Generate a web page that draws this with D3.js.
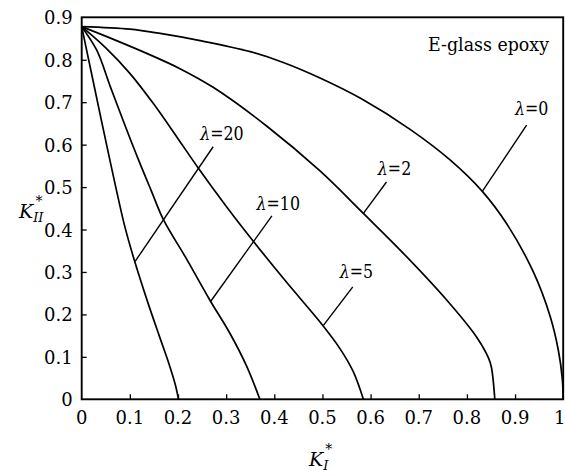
<!DOCTYPE html>
<html>
<head>
<meta charset="utf-8">
<script src="https://cdn.jsdelivr.net/npm/d3@7"></script>
<style>
  html, body { margin: 0; padding: 0; background: #fff; }
  svg { display: block; }
</style>
</head>
<body>
<svg id="chart" width="565" height="475"></svg>
<script>
// ---- data ----
const xTicks = [0, 0.1, 0.2, 0.3, 0.4, 0.5, 0.6, 0.7, 0.8, 0.9, 1];
const yTicks = [0, 0.1, 0.2, 0.3, 0.4, 0.5, 0.6, 0.7, 0.8, 0.9];
const xTickLabels = ["0", "0.1", "0.2", "0.3", "0.4", "0.5", "0.6", "0.7", "0.8", "0.9", "1"];
const yTickLabels = ["0", "0.1", "0.2", "0.3", "0.4", "0.5", "0.6", "0.7", "0.8", "0.9"];

const lambdaNames = ["0", "2", "5", "10", "20"];

// [K_I*, K_II*] points for each lambda
const curveL0 = [[0, 0.878], [0.1, 0.872], [0.163, 0.862], [0.246, 0.845], [0.35, 0.819], [0.42, 0.793],
  [0.495, 0.757], [0.581, 0.708], [0.682, 0.636], [0.765, 0.564], [0.832, 0.490], [0.883, 0.413],
  [0.938, 0.300], [0.973, 0.195], [0.990, 0.115], [0.998, 0.05], [1.0, 0]];
const curveL2 = [[0, 0.878], [0.066, 0.848], [0.135, 0.815], [0.204, 0.779], [0.273, 0.735], [0.384, 0.644],
  [0.495, 0.538], [0.585, 0.438], [0.668, 0.344], [0.758, 0.234], [0.82, 0.147], [0.845, 0.097],
  [0.851, 0.075], [0.858, 0]];
const curveL5 = [[0, 0.878], [0.05, 0.828], [0.1, 0.768], [0.15, 0.695], [0.2, 0.614], [0.242, 0.545],
  [0.3, 0.455], [0.356, 0.373], [0.426, 0.275], [0.495, 0.182], [0.536, 0.12], [0.564, 0.065], [0.585, 0]];
const curveL10 = [[0, 0.878], [0.031, 0.823], [0.06, 0.735], [0.09, 0.645], [0.118, 0.564], [0.145, 0.49],
  [0.170, 0.4225], [0.215, 0.336], [0.266, 0.234], [0.308, 0.155], [0.343, 0.077], [0.370, 0]];
const curveL20 = [[0, 0.878], [0.02, 0.77], [0.04, 0.662], [0.06, 0.556], [0.075, 0.478], [0.09, 0.405],
  [0.110, 0.325], [0.135, 0.236], [0.16, 0.153], [0.18, 0.088], [0.195, 0.032], [0.201, 0]];

// ---- layout ----
const SERIF = "'DejaVu Serif', serif";
const svg = d3.select("#chart").style("font-family", SERIF);
const mLeft = 81.7, mRight = 563.2, mTop = 17.3, mBottom = 399.3;
const x = d3.scaleLinear().domain([0, 1]).range([mLeft, mRight]);
const y = d3.scaleLinear().domain([0, 0.9]).range([mBottom, mTop]);

// squeeze DejaVu Serif horizontally toward the narrower Times-like look
function squeeze(sel, f) {
  sel.each(function () {
    const w = this.getComputedTextLength();
    d3.select(this).attr("textLength", w * f).attr("lengthAdjust", "spacingAndGlyphs");
  });
}

// label annotations: label anchor (data units), leader start and end (data units)
const annotations = [
  { name: lambdaNames[0], lx: 0.900, ly: 0.670, x1: 0.924, y1: 0.646, x2: 0.832, y2: 0.490 },
  { name: lambdaNames[1], lx: 0.615, ly: 0.528, x1: 0.633, y1: 0.512, x2: 0.585, y2: 0.438 },
  { name: lambdaNames[2], lx: 0.536, ly: 0.286, x1: 0.563, y1: 0.265, x2: 0.502, y2: 0.174 },
  { name: lambdaNames[3], lx: 0.363, ly: 0.446, x1: 0.395, y1: 0.432, x2: 0.268, y2: 0.231 },
  { name: lambdaNames[4], lx: 0.246, ly: 0.611, x1: 0.273, y1: 0.595, x2: 0.111, y2: 0.325 }
];

const line = d3.line().x(d => x(d[0])).y(d => y(d[1])).curve(d3.curveCatmullRom.alpha(0.5));

// curves
[curveL0, curveL2, curveL5, curveL10, curveL20].forEach(c => {
  svg.append("path").datum(c).attr("d", line)
    .attr("fill", "none").attr("stroke", "#000").attr("stroke-width", 1.7)
    .attr("stroke-linejoin", "round");
});

// leader lines and labels
annotations.forEach(a => {
  svg.append("line")
    .attr("x1", x(a.x1)).attr("y1", y(a.y1)).attr("x2", x(a.x2)).attr("y2", y(a.y2))
    .attr("stroke", "#000").attr("stroke-width", 1.4);
  const t = svg.append("text").attr("x", x(a.lx)).attr("y", y(a.ly)).style("font-size", "18px");
  t.append("tspan").style("font-style", "italic").text("λ");
  t.append("tspan").text("=" + a.name);
  squeeze(t, 0.88);
});

// axes (ticks pointing inward)
const xAxis = d3.axisTop(x).tickValues(xTicks.slice(1, -1)).tickSize(5).tickFormat("");
svg.append("g").attr("transform", `translate(0,${mBottom})`).call(xAxis)
  .call(g => g.select(".domain").remove())
  .selectAll("line").attr("stroke", "#000").attr("stroke-width", 1.3);
const yAxis = d3.axisRight(y).tickValues(yTicks.slice(1, -1)).tickSize(5).tickFormat("");
svg.append("g").attr("transform", `translate(${mLeft},0)`).call(yAxis)
  .call(g => g.select(".domain").remove())
  .selectAll("line").attr("stroke", "#000").attr("stroke-width", 1.3);

// frame
svg.append("rect").attr("x", mLeft).attr("y", mTop).attr("width", mRight - mLeft).attr("height", mBottom - mTop)
  .attr("fill", "none").attr("stroke", "#000").attr("stroke-width", 1.9);

// tick labels
svg.append("g").selectAll("text").data(xTicks).join("text")
  .attr("x", (d, i) => i === xTicks.length - 1 ? 565.5 : x(d))
  .attr("y", mBottom + 25)
  .attr("text-anchor", (d, i) => i === xTicks.length - 1 ? "end" : "middle")
  .style("font-size", "18px").text((d, i) => xTickLabels[i]);
svg.append("g").selectAll("text").data(yTicks).join("text")
  .attr("x", mLeft - 9).attr("y", d => y(d) + 7).attr("text-anchor", "end")
  .style("font-size", "18px").text((d, i) => yTickLabels[i]);

// material label
const mat = svg.append("text").attr("x", 549).attr("y", 51).attr("text-anchor", "end")
  .style("font-size", "18px").text("E-glass epoxy");
mat.attr("textLength", 121).attr("lengthAdjust", "spacingAndGlyphs");

// axis titles
const xt = svg.append("text").attr("x", 309).attr("y", 466).style("font-size", "19px");
xt.append("tspan").style("font-style", "italic").text("K");
xt.append("tspan").style("font-style", "italic").style("font-size", "13px").attr("dy", 4).text("I");
xt.append("tspan").style("font-size", "14px").attr("dx", -3).attr("dy", -16).text("*");

const yt = svg.append("text").attr("x", 19).attr("y", 218).style("font-size", "19px");
yt.append("tspan").style("font-style", "italic").text("K");
yt.append("tspan").style("font-style", "italic").style("font-size", "13px").attr("dy", 4).text("II");
yt.append("tspan").style("font-size", "14px").attr("dx", -8).attr("dy", -16).text("*");
</script>
</body>
</html>
